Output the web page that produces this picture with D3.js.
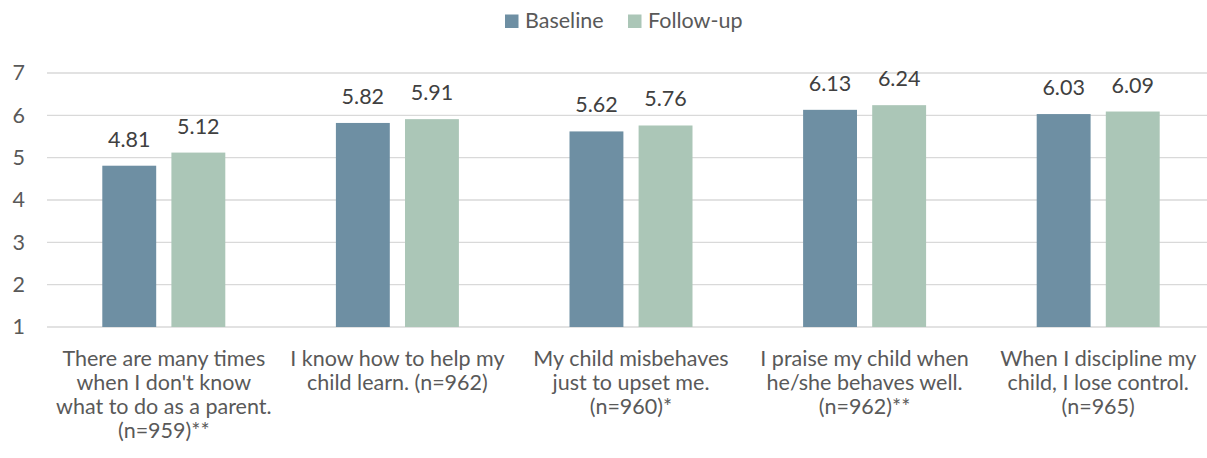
<!DOCTYPE html>
<html>
<head>
<meta charset="utf-8">
<script src="https://cdn.jsdelivr.net/npm/d3@7"></script>
<style>
  html, body { margin: 0; padding: 0; background: #fff; }
  svg { display: block; font-family: Lato, "Liberation Sans", sans-serif; }
</style>
</head>
<body>
<svg id="chart" width="1207" height="458"></svg>
<script>
// Survey items (label lines) and mean scores
const categories = [
  "There are many times|when I don't know|what to do as a parent.|(n=959)**",
  "I know how to help my|child learn. (n=962)",
  "My child misbehaves|just to upset me.|(n=960)*",
  "I praise my child when|he/she behaves well.|(n=962)**",
  "When I discipline my|child, I lose control.|(n=965)"
];
const seriesNames = ["Baseline", "Follow-up"];
const baseline = [4.81, 5.82, 5.62, 6.13, 6.03];
const followUp = [5.12, 5.91, 5.76, 6.24, 6.09];
const yTicks = [1, 2, 3, 4, 5, 6, 7];

const colors = { "Baseline": "#6e8fa3", "Follow-up": "#abc6b7" };
const fontSize = 21.5;

const svg = d3.select("#chart");
const W = 1207, H = 458;
const plotLeft = 47, plotRight = 1215, plotTop = 73, plotBottom = 327;
const groupWidth = 123;

const x0 = d3.scaleBand().domain(categories).range([plotLeft, plotRight]);
const x1 = d3.scaleBand().domain(seriesNames).range([0, groupWidth]).paddingInner(0.22);
const y = d3.scaleLinear().domain([1, 7]).range([plotBottom, plotTop]);

// Gridlines
svg.append("g")
  .selectAll("line")
  .data(yTicks)
  .join("line")
  .attr("x1", plotLeft).attr("x2", W)
  .attr("y1", d => y(d)).attr("y2", d => y(d))
  .attr("stroke", "#d9d9d9")
  .attr("stroke-width", 1.3);

// Y axis labels
const yAxis = d3.axisLeft(y).tickValues(yTicks).tickSize(0).tickPadding(0).tickFormat(d3.format("d"));
svg.append("g")
  .attr("transform", `translate(${plotLeft - 22},0)`)
  .call(yAxis)
  .call(g => g.select(".domain").remove())
  .call(g => g.selectAll("text")
    .attr("font-family", "Lato, 'Liberation Sans', sans-serif")
    .attr("font-size", fontSize)
    .attr("fill", "#595959"));

// Bars
const rows = categories.map((c, i) => ({ cat: c, values: [
  { key: "Baseline", value: baseline[i] },
  { key: "Follow-up", value: followUp[i] }
]}));

const groups = svg.append("g").selectAll("g")
  .data(rows)
  .join("g")
  .attr("transform", d => `translate(${x0(d.cat) + (x0.bandwidth() - groupWidth) / 2},0)`);

groups.selectAll("rect")
  .data(d => d.values)
  .join("rect")
  .attr("x", d => x1(d.key))
  .attr("width", x1.bandwidth())
  .attr("y", d => y(d.value))
  .attr("height", d => y(1) - y(d.value))
  .attr("fill", d => colors[d.key]);

groups.selectAll("text.value")
  .data(d => d.values)
  .join("text")
  .attr("class", "value")
  .attr("x", d => x1(d.key) + x1.bandwidth() / 2)
  .attr("y", d => y(d.value) - 19)
  .attr("text-anchor", "middle")
  .attr("font-size", fontSize)
  .attr("fill", "#404040")
  .text(d => d.value.toFixed(2));

// Category labels
const labels = svg.append("g").selectAll("text")
  .data(categories)
  .join("text")
  .attr("x", d => x0(d) + x0.bandwidth() / 2)
  .attr("y", 366)
  .attr("text-anchor", "middle")
  .attr("font-size", fontSize)
  .attr("fill", "#595959");
labels.selectAll("tspan")
  .data(d => d.split("|").map((t, i) => ({ t, i, cx: x0(d) + x0.bandwidth() / 2 })))
  .join("tspan")
  .attr("x", d => d.cx)
  .attr("dy", d => d.i === 0 ? 0 : 24)
  .text(d => d.t);

// Legend
const legendX = [505, 628];
const legend = svg.append("g").selectAll("g")
  .data(seriesNames)
  .join("g")
  .attr("transform", (d, i) => `translate(${legendX[i]},14.5)`);
legend.append("rect")
  .attr("width", 13.5).attr("height", 13.5)
  .attr("fill", d => colors[d]);
legend.append("text")
  .attr("x", 20).attr("y", 13.5)
  .attr("font-size", fontSize)
  .attr("fill", "#595959")
  .text(d => d);
</script>
</body>
</html>
